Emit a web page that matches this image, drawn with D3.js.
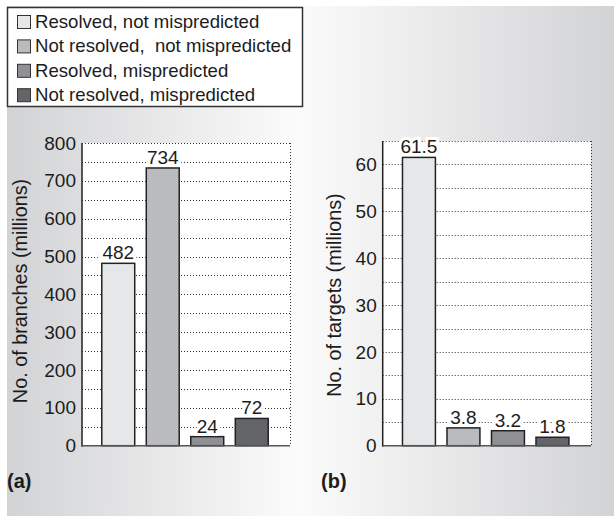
<!DOCTYPE html>
<html>
<head>
<meta charset="utf-8">
<script src="https://cdn.jsdelivr.net/npm/d3@7"></script>
<style>
  html, body { margin: 0; padding: 0; background: #ffffff; }
  svg { display: block; font-family: "Liberation Sans", Arial, Helvetica, sans-serif; }
</style>
</head>
<body>
<svg id="chart" width="614" height="516"></svg>
<script>
// ---- data ----
const categories = ["Resolved, not mispredicted", "Not resolved,  not mispredicted", "Resolved, mispredicted", "Not resolved, mispredicted"];
const branches = [482, 734, 24, 72];
const targets = [61.5, 3.8, 3.2, 1.8];
const branchTicks = [0, 100, 200, 300, 400, 500, 600, 700, 800];
const targetTicks = [0, 10, 20, 30, 40, 50, 60];
const barColors = ["#e6e7e9", "#babbbe", "#8f9093", "#646568"];

const svg = d3.select("#chart");
const ink = "#1c1c1c";

// background gradient
const defs = svg.append("defs");
const grad = defs.append("linearGradient").attr("id", "bg").attr("x1", "0").attr("x2", "1").attr("y1", "0").attr("y2", "0");
grad.append("stop").attr("offset", "0").attr("stop-color", "#d2d3d5");
grad.append("stop").attr("offset", "0.48").attr("stop-color", "#fbfbfb");
grad.append("stop").attr("offset", "1").attr("stop-color", "#d2d3d5");
svg.append("rect").attr("x", 7).attr("y", 6).attr("width", 607).attr("height", 510).attr("fill", "url(#bg)");

// legend
const lg = svg.append("g");
lg.append("rect").attr("x", 7.5).attr("y", 7.5).attr("width", 295).attr("height", 99)
  .attr("fill", "#ffffff").attr("stroke", "#333").attr("stroke-width", 1.5);
categories.forEach((c, i) => {
  const by = 28 + i * 24.4;
  lg.append("rect").attr("x", 17.5).attr("y", by - 12.5).attr("width", 13).attr("height", 13)
    .attr("fill", barColors[i]).attr("stroke", "#333").attr("stroke-width", 1);
  lg.append("text").attr("x", 35).attr("y", by).attr("font-size", 18.6).attr("fill", ink)
    .style("white-space", "pre").text(c);
});

function panel(cfg) {
  const g = svg.append("g");
  const y = d3.scaleLinear().domain([0, cfg.max]).range([cfg.bottom, cfg.top]);
  const x = d3.scaleBand().domain(categories).range([cfg.left + 14, cfg.left + 192])
    .paddingInner(0.26).paddingOuter(0.13);

  g.append("rect").attr("x", cfg.left).attr("y", cfg.top).attr("width", cfg.right - cfg.left)
    .attr("height", cfg.bottom - cfg.top).attr("fill", "#ffffff");

  // dotted grid lines
  const grid = d3.range(cfg.gridStep, cfg.max, cfg.gridStep);
  g.selectAll(".grid").data(grid).join("line")
    .attr("x1", cfg.left).attr("x2", cfg.right)
    .attr("y1", d => Math.round(y(d)) + 0.5).attr("y2", d => Math.round(y(d)) + 0.5)
    .attr("stroke", "#333").attr("stroke-width", 1).attr("stroke-dasharray", "1,2");
  // dotted top & right borders
  g.append("line").attr("x1", cfg.left).attr("x2", cfg.right)
    .attr("y1", Math.round(y(cfg.max)) + 0.5).attr("y2", Math.round(y(cfg.max)) + 0.5)
    .attr("stroke", "#333").attr("stroke-dasharray", "1,2");
  g.append("line").attr("x1", cfg.right + 0.5).attr("x2", cfg.right + 0.5)
    .attr("y1", y(cfg.max)).attr("y2", y(0))
    .attr("stroke", "#333").attr("stroke-dasharray", "1,2");

  // bars
  g.selectAll(".bar").data(cfg.values).join("rect")
    .attr("x", (d, i) => x(categories[i]))
    .attr("y", d => y(d))
    .attr("width", x.bandwidth())
    .attr("height", d => y(0) - y(d))
    .attr("fill", (d, i) => barColors[i])
    .attr("stroke", "#222").attr("stroke-width", 1.5);

  // value labels
  g.selectAll(".val").data(cfg.values).join("text")
    .attr("x", (d, i) => x(categories[i]) + x.bandwidth() / 2)
    .attr("y", d => y(d) - 4)
    .attr("text-anchor", "middle").attr("font-size", 19).attr("fill", ink)
    .attr("stroke", "#ffffff").attr("stroke-width", 6).attr("paint-order", "stroke")
    .text(cfg.format);

  // axes
  const axis = d3.axisLeft(y).tickValues(cfg.ticks).tickSize(0).tickPadding(6).tickFormat(d3.format("d"));
  const ag = g.append("g").attr("transform", `translate(${cfg.left},0)`).call(axis);
  ag.select(".domain").remove();
  ag.selectAll("text").attr("font-size", 19).attr("fill", ink)
    .attr("font-family", "'Liberation Sans', Arial, sans-serif");
  g.append("line").attr("x1", cfg.left).attr("x2", cfg.left).attr("y1", y(cfg.max)).attr("y2", y(0) + 1)
    .attr("stroke", "#222").attr("stroke-width", 1.5);
  g.append("line").attr("x1", cfg.left).attr("x2", cfg.right).attr("y1", y(0)).attr("y2", y(0))
    .attr("stroke", "#555").attr("stroke-width", 1.5);

  // y label
  g.append("text").attr("transform", `translate(${cfg.labelX},${cfg.labelY}) rotate(-90)`)
    .attr("text-anchor", "middle").attr("font-size", 19.8).attr("fill", ink).text(cfg.ylabel);

  // panel tag
  g.append("text").attr("x", cfg.tagX).attr("y", 488).attr("font-size", 20).attr("font-weight", "bold")
    .attr("fill", ink).text(cfg.tag);
}

panel({
  left: 82, right: 290, top: 143, bottom: 445.7, max: 800, gridStep: 50,
  ticks: branchTicks, values: branches, format: d => d3.format("d")(d),
  ylabel: "No. of branches (millions)", labelX: 27, labelY: 291, tag: "(a)", tagX: 7
});
panel({
  left: 382.7, right: 591, top: 141, bottom: 445.7, max: 65, gridStep: 5,
  ticks: targetTicks, values: targets, format: d => d3.format(".1f")(d),
  ylabel: "No. of targets (millions)", labelX: 341, labelY: 295, tag: "(b)", tagX: 321
});
</script>
</body>
</html>
